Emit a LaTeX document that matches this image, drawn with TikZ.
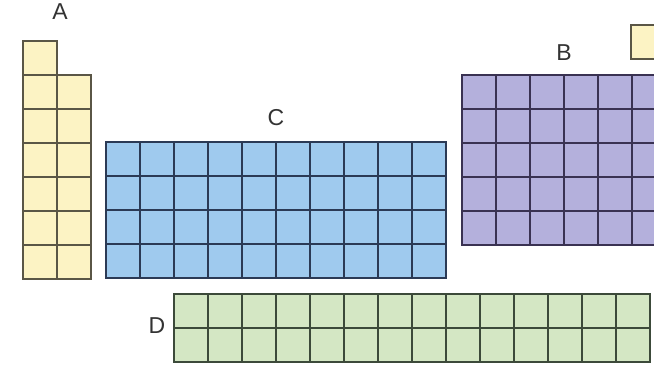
\documentclass[tikz,border=0pt]{standalone}
\usepackage{fontspec}
\setmainfont{Liberation Sans}
\begin{document}
\begin{tikzpicture}[x=1pt,y=-1pt,
  lbl/.style={font=\fontsize{23}{23}\selectfont, text=black!80, inner sep=0pt},
  ycell/.style={fill=yellowfill, draw=yellowline, line width=1.9pt},
  bcell/.style={fill=bluefill, draw=blueline, line width=1.9pt},
  pcell/.style={fill=purplefill, draw=purpleline, line width=1.9pt},
  gcell/.style={fill=greenfill, draw=greenline, line width=1.9pt}]
\definecolor{yellowfill}{HTML}{FCF3C4}
\definecolor{yellowline}{HTML}{5A5646}
\definecolor{bluefill}{HTML}{9FCAEE}
\definecolor{blueline}{HTML}{2B3A55}
\definecolor{purplefill}{HTML}{B4B0DC}
\definecolor{purpleline}{HTML}{3A3252}
\definecolor{greenfill}{HTML}{D4E7C4}
\definecolor{greenline}{HTML}{3C4A3A}
\useasboundingbox (0,0) rectangle (654,372);
\fill[white] (0,0) rectangle (654,372);
\clip (0,0) rectangle (654,372);
% A block
\draw[ycell] (23,41) rectangle (57,75);
\foreach \i in {0,1} \foreach \j in {0,...,5}
  \draw[ycell] ({23+34*\i},{75+34*\j}) rectangle ++(34,34);
% C block
\foreach \i in {0,...,9} \foreach \j in {0,...,3}
  \draw[bcell] ({106+34*\i},{142+34*\j}) rectangle ++(34,34);
% B block
\foreach \i in {0,...,5} \foreach \j in {0,...,4}
  \draw[pcell] ({462+34*\i},{75+34*\j}) rectangle ++(34,34);
% small yellow cell at top right
\draw[ycell] (631,25) rectangle ++(34,34);
% D block
\foreach \i in {0,...,13} \foreach \j in {0,1}
  \draw[gcell] ({174+34*\i},{294+34*\j}) rectangle ++(34,34);
% labels
\node[lbl] (la) at (60,12) {A};
\node[lbl] (lb) at (564,53) {B};
\node[lbl] (lc) at (276,118) {C};
\node[lbl] (ld) at (157,326) {D};
\end{tikzpicture}
\end{document}
